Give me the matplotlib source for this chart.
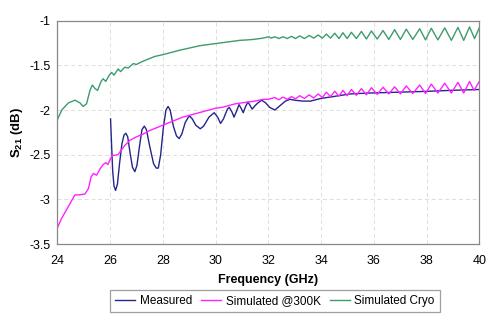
import matplotlib
matplotlib.use("Agg")
import matplotlib.pyplot as plt

plt.rcParams["font.family"] = ["Liberation Sans", "DejaVu Sans"]
plt.rcParams["mathtext.fontset"] = "custom"
plt.rcParams["mathtext.bf"] = "Liberation Sans:bold"
plt.rcParams["mathtext.rm"] = "Liberation Sans"

# Measured
meas_f = [26.02, 26.06, 26.10, 26.15, 26.21, 26.28, 26.36, 26.45, 26.53, 26.60,
          26.67, 26.76, 26.85, 26.94, 27.02, 27.12, 27.21, 27.30, 27.38, 27.50,
          27.65, 27.75, 27.83, 27.92, 28.02, 28.12, 28.20, 28.28, 28.40, 28.52,
          28.62, 28.72, 28.85, 28.97, 29.03, 29.12, 29.25, 29.42, 29.55, 29.75,
          29.95, 30.08, 30.19, 30.30, 30.45, 30.52, 30.62, 30.70, 30.80, 30.89,
          30.97, 31.05, 31.14, 31.23, 31.31, 31.39, 31.50, 31.61, 31.75, 31.90,
          32.05, 32.25, 32.45, 32.65, 32.82, 33.0, 33.3, 33.6, 34.0, 34.45,
          35.1, 35.8, 37.0, 38.1, 38.9, 40.0]
meas_v = [-2.10, -2.40, -2.68, -2.85, -2.90, -2.83, -2.60, -2.38, -2.28, -2.26,
          -2.30, -2.48, -2.64, -2.69, -2.62, -2.40, -2.22, -2.18, -2.22, -2.40,
          -2.60, -2.65, -2.65, -2.50, -2.20, -2.00, -1.96, -2.00, -2.18, -2.29,
          -2.32, -2.27, -2.14, -2.08, -2.07, -2.10, -2.17, -2.21, -2.18, -2.08,
          -2.03, -2.08, -2.15, -2.10, -1.99, -1.97, -2.02, -2.08, -2.01, -1.94,
          -1.98, -2.03, -1.96, -1.91, -1.95, -1.99, -1.95, -1.92, -1.89, -1.92,
          -1.97, -2.00, -1.95, -1.90, -1.88, -1.89, -1.90, -1.90, -1.87, -1.85,
          -1.82, -1.81, -1.80, -1.79, -1.78, -1.77]

# Simulated @300K
sim300_f = [24.00, 24.17, 24.42, 24.67, 24.85, 25.05, 25.18, 25.28, 25.37, 25.49,
            25.62, 25.74, 25.84, 25.92, 26.02, 26.10, 26.30, 26.40, 26.55, 26.75,
            27.0, 27.25, 27.5, 27.75, 28.0, 28.25, 28.5, 28.75, 29.0, 29.25,
            29.5, 29.75, 30.0, 30.25, 30.5, 30.75, 31.0, 31.25, 31.5, 31.8, 32.0,
            32.25, 32.40, 32.56, 32.72, 32.88, 33.03, 33.19, 33.37, 33.55, 33.72,
            33.89, 34.05, 34.20, 34.36, 34.52, 34.68, 34.83, 34.99, 35.15, 35.34,
            35.53, 35.72, 35.91, 36.13, 36.35, 36.57, 36.79, 37.01, 37.23, 37.48,
            37.74, 37.96, 38.18, 38.43, 38.69, 38.94, 39.19, 39.41, 39.63, 39.80, 40.0]
sim300_v = [-3.32, -3.21, -3.08, -2.95, -2.95, -2.94, -2.88, -2.75, -2.71, -2.73,
            -2.66, -2.61, -2.59, -2.61, -2.54, -2.51, -2.50, -2.46, -2.40, -2.34,
            -2.30, -2.27, -2.23, -2.20, -2.17, -2.14, -2.11, -2.08, -2.06, -2.04,
            -2.02, -2.00, -1.98, -1.97, -1.95, -1.93, -1.92, -1.91, -1.90, -1.88, -1.88,
            -1.86, -1.885, -1.855, -1.88, -1.85, -1.875, -1.84, -1.87, -1.83, -1.865,
            -1.82, -1.86, -1.80, -1.85, -1.79, -1.845, -1.78, -1.84, -1.77, -1.835,
            -1.76, -1.83, -1.75, -1.825, -1.745, -1.82, -1.74, -1.82, -1.73, -1.815,
            -1.72, -1.815, -1.71, -1.81, -1.70, -1.81, -1.69, -1.81, -1.68, -1.78, -1.68]

# Simulated Cryo
cryo_f = [24.00, 24.17, 24.42, 24.67, 24.86, 24.98, 25.11, 25.24, 25.33, 25.43,
          25.53, 25.66, 25.74, 25.84, 25.97, 26.06, 26.15, 26.31, 26.40, 26.56,
          26.69, 26.88, 27.0, 27.2, 27.45, 27.7, 28.0, 28.65, 29.4, 30.16,
          30.92, 31.2, 31.42, 31.55, 31.68, 31.80, 31.87, 32.03,
          32.10, 32.25, 32.40, 32.56, 32.72, 32.88, 33.03, 33.19, 33.37, 33.55,
          33.72, 33.89, 34.05, 34.20, 34.36, 34.52, 34.68, 34.83, 34.99, 35.15,
          35.34, 35.53, 35.72, 35.91, 36.13, 36.35, 36.57, 36.79, 37.01, 37.23,
          37.48, 37.74, 37.96, 38.18, 38.43, 38.69, 38.94, 39.19, 39.41, 39.63,
          39.82, 40.0]
cryo_v = [-2.11, -2.00, -1.92, -1.89, -1.92, -1.96, -1.93, -1.78, -1.72, -1.76,
          -1.78, -1.68, -1.65, -1.68, -1.61, -1.58, -1.61, -1.54, -1.57, -1.52,
          -1.53, -1.48, -1.49, -1.46, -1.43, -1.40, -1.38, -1.33, -1.28, -1.25,
          -1.22, -1.215, -1.21, -1.205, -1.20, -1.195, -1.19, -1.18,
          -1.195, -1.18, -1.20, -1.18, -1.20, -1.175, -1.20, -1.17, -1.20, -1.165,
          -1.195, -1.16, -1.195, -1.15, -1.195, -1.14, -1.20, -1.135, -1.20, -1.13,
          -1.20, -1.12, -1.205, -1.115, -1.205, -1.11, -1.21, -1.10, -1.21, -1.095,
          -1.21, -1.09, -1.215, -1.085, -1.215, -1.08, -1.22, -1.075, -1.22, -1.07,
          -1.20, -1.08]

x_ticks = [24, 26, 28, 30, 32, 34, 36, 38, 40]
y_ticks = [-3.5, -3, -2.5, -2, -1.5, -1]
y_tick_labels = ["-3.5", "-3", "-2.5", "-2", "-1.5", "-1"]

fig = plt.figure(figsize=(4.99, 3.16), dpi=100)
ax = fig.add_axes([0.1148, 0.2278, 0.8457, 0.7067])

ax.plot(meas_f, meas_v, color="#25258a", lw=1.0, label="Measured")
ax.plot(sim300_f, sim300_v, color="#ff22ff", lw=1.0, label="Simulated @300K")
ax.plot(cryo_f, cryo_v, color="#3c9c6c", lw=1.0, label="Simulated Cryo")

ax.set_xlim(24, 40)
ax.set_ylim(-3.5, -1)
ax.set_xticks(x_ticks)
ax.set_yticks(y_ticks)
ax.set_yticklabels(y_tick_labels)
ax.tick_params(length=0, labelsize=9)
ax.tick_params(axis="x", pad=8)
ax.tick_params(axis="y", pad=5)
ax.grid(True, ls=(0, (4, 3)), color="#dddddd", lw=0.7)
for s in ax.spines.values():
    s.set_color("#888888")
    s.set_linewidth(0.9)

ax.set_xlabel("Frequency (GHz)", fontsize=9, fontweight="bold")
ax.xaxis.set_label_coords(0.5, -0.133)
ax.set_ylabel("S$_\\mathbf{21}$ (dB)", fontsize=9.5, fontweight="bold")
ax.yaxis.set_label_coords(-0.076, 0.5)

leg = fig.legend(loc="center", bbox_to_anchor=(0.551, 0.048), ncol=3,
                 fontsize=8.5, frameon=True, fancybox=False, handlelength=1.7,
                 columnspacing=0.75, handletextpad=0.4, borderpad=0.45,
                 borderaxespad=0)
leg.get_frame().set_edgecolor("#888888")
leg.get_frame().set_linewidth(0.9)

fig.savefig("out.png", dpi=100)
